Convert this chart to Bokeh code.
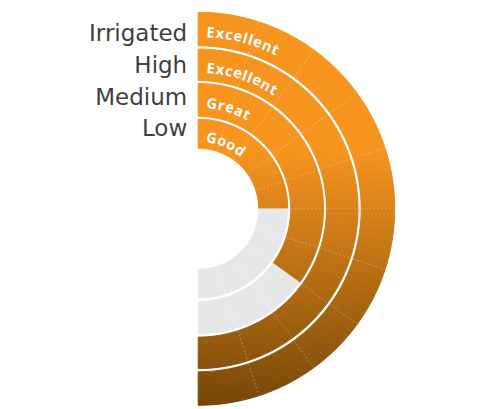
import numpy as np
from bokeh.plotting import figure
from bokeh.models import Range1d
from bokeh.core.properties import value
from bokeh.embed import file_html
from bokeh.resources import INLINE

# ---- data ----
rings = ["Low", "Medium", "High", "Irrigated"]
ratings = ["Good", "Great", "Excellent", "Excellent"]
filled_segments = [5, 7, 10, 10]
total_segments = 10

# ---- layout / style ----
W, H = 479, 409
cx, cy = 197.7, 409 - 208.3
inner_r = [60.5, 92.5, 128.3, 163.0]
outer_r = [89.5, 125.3, 159.8, 196.5]
label_y_off = [81.3, 112.3, 144.0, 175.6]
GRAY = "#e6e7e8"

p = figure(width=W, height=H, x_range=Range1d(0, W), y_range=Range1d(0, H),
           output_backend="svg", toolbar_location=None, min_border=0,
           x_axis_location=None, y_axis_location=None)
p.grid.visible = False
p.outline_line_color = None
p.background_fill_color = "white"
p.border_fill_color = "white"

top = cy + outer_r[-1]
span = 2 * outer_r[-1]
c0 = np.array([247, 148, 30])
c1 = np.array([118, 71, 8])
t0 = 0.35


def grad(y):
    t = (top - y) / span
    u = np.clip((t - t0) / (1 - t0), 0, 1)
    c = c0 + (c1 - c0) * u
    return "#%02x%02x%02x" % tuple(int(round(v)) for v in c)


seg = np.pi / total_segments
NA, NR = 6, 5
xs, ys, ri, ro, sa, ea, cols = [], [], [], [], [], [], []
gx, gy, gri, gro, gsa, gea = [], [], [], [], [], []
for k in range(len(rings)):
    for j in range(total_segments):
        a_hi = np.pi / 2 - seg * j
        a_lo = np.pi / 2 - seg * (j + 1)
        if j < filled_segments[k]:
            da = (a_hi - a_lo) / NA
            dr = (outer_r[k] - inner_r[k]) / NR
            for a in range(NA):
                for r in range(NR):
                    s = a_lo + a * da
                    e = s + da
                    r0 = inner_r[k] + r * dr
                    r1 = r0 + dr
                    ym = cy + (r0 + r1) / 2 * np.sin((s + e) / 2)
                    xs.append(cx); ys.append(cy)
                    ri.append(r0); ro.append(r1)
                    sa.append(s); ea.append(e)
                    cols.append(grad(ym))
        else:
            gx.append(cx); gy.append(cy)
            gri.append(inner_r[k]); gro.append(outer_r[k])
            gsa.append(a_lo); gea.append(a_hi)

p.annular_wedge(x=xs, y=ys, inner_radius=ri, outer_radius=ro,
                start_angle=sa, end_angle=ea, fill_color=cols,
                line_color=cols, line_width=1)
p.annular_wedge(x=gx, y=gy, inner_radius=gri, outer_radius=gro,
                start_angle=gsa, end_angle=gea, fill_color=GRAY,
                line_color=GRAY, line_width=0.5)

# segment separators
x0s, y0s, x1s, y1s = [], [], [], []
for k in range(len(rings)):
    for j in range(1, total_segments):
        a = np.pi / 2 - seg * j
        x0s.append(cx + inner_r[k] * np.cos(a)); y0s.append(cy + inner_r[k] * np.sin(a))
        x1s.append(cx + outer_r[k] * np.cos(a)); y1s.append(cy + outer_r[k] * np.sin(a))
p.segment(x0=x0s, y0=y0s, x1=x1s, y1=y1s, line_color="white",
          line_alpha=0.3, line_width=1, line_dash="2 2")

# left labels
p.text(x=[cx - 11] * len(rings), y=[cy + o for o in label_y_off], text=rings,
       text_align="right", text_baseline="alphabetic",
       text_font=value("DejaVu Sans"), text_font_size="23px", text_color="#3f3f3f")

# curved rating labels
cw = {"E": 0.56, "x": 0.58, "c": 0.50, "e": 0.58, "l": 0.30, "n": 0.65,
      "t": 0.42, "G": 0.71, "r": 0.47, "a": 0.59, "o": 0.62, "d": 0.65}
fs = 14.5
track = 1.2
s0 = 8.5
tx, ty, tt, tang = [], [], [], []
for k in range(len(rings)):
    rb = (inner_r[k] + outer_r[k]) / 2 - 2.5
    s = s0
    for ch in ratings[k]:
        w = cw.get(ch, 0.55) * fs
        sc = s + w / 2
        phi = np.pi / 2 - sc / rb
        tx.append(cx + rb * np.cos(phi)); ty.append(cy + rb * np.sin(phi))
        tt.append(ch); tang.append(phi - np.pi / 2)
        s += w + track
p.text(x=tx, y=ty, text=tt, angle=tang, text_align="center",
       text_baseline="alphabetic", text_font=value("Open Sans"),
       text_font_style="bold", text_font_size="%.1fpx" % fs, text_color="white")

open("out.html", "w").write(file_html(p, INLINE))
